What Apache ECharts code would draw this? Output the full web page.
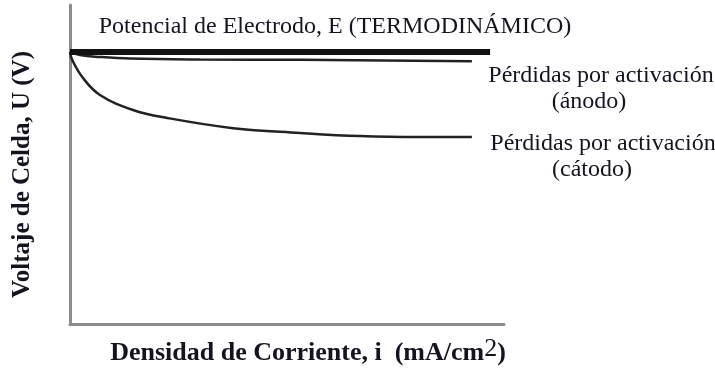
<!DOCTYPE html>
<html>
<head>
    <meta charset="utf-8">
    <title>Pérdidas por activación</title>
    <script src="https://cdn.jsdelivr.net/npm/echarts@6/dist/echarts.min.js"></script>
    <style>
        html, body { margin: 0; padding: 0; background: #fff; }
        #chart { width: 715px; height: 371px; }
    </style>
</head>
<body>
<div id="chart"></div>
<script>
    // datos (escala arbitraria 0-100)
    var potencialX = [0, 96.8];
    var potencialY = [85.3, 85.3];
    var anodoX = [0, 2.3, 6.9, 13.8, 30, 53, 92.6];
    var anodoY = [85.3, 84.3, 83.7, 83.2, 82.9, 82.8, 82.4];
    var catodoX = [0, 0.5, 3.0, 6.9, 14.5, 22.4, 37.6, 53, 66.8, 80.6, 92.6];
    var catodoY = [85.3, 82.8, 77.1, 71.8, 67.1, 64.6, 61.4, 59.9, 58.9, 58.6, 58.6];

    function pares(xs, ys) {
        return xs.map(function (x, i) { return [x, ys[i]]; });
    }

    var serif = '"Liberation Serif", "DejaVu Serif", serif';
    var txt = '#141420';

    var option = {
        animation: false,
        grid: { left: 70, right: 211, top: 5, bottom: 47, outerBoundsMode: 'none' },
        xAxis: {
            type: 'value', min: 0, max: 100,
            axisLine: { lineStyle: { color: '#8c8c8c', width: 3 } },
            axisTick: { show: false }, axisLabel: { show: false }, splitLine: { show: false },
            name: 'Densidad de Corriente, i  (mA/cm{s|2})',
            nameLocation: 'middle', nameGap: 12,
            nameTextStyle: {
                fontFamily: serif, fontWeight: 'bold', fontSize: 26, color: txt,
                padding: [0, 0, 0, 42],
                rich: { s: { fontFamily: serif, fontWeight: 'normal', fontSize: 26, color: txt, verticalAlign: 'top', padding: [0, 0, 8, 0] } }
            }
        },
        yAxis: {
            type: 'value', min: 0, max: 100,
            axisLine: { lineStyle: { color: '#8c8c8c', width: 3 } },
            axisTick: { show: false }, axisLabel: { show: false }, splitLine: { show: false },
            name: 'Voltaje de Celda, U (V)',
            nameLocation: 'middle', nameGap: 35, nameRotate: 90,
            nameTextStyle: {
                fontFamily: serif, fontWeight: 'bold', fontSize: 25, color: txt,
                padding: [0, 20, 0, 0]
            }
        },
        series: [
            {
                name: 'E', type: 'line', symbol: 'none',
                data: pares(potencialX, potencialY),
                lineStyle: { color: '#111', width: 6 }, z: 5
            },
            {
                name: 'anodo', type: 'line', symbol: 'none', smooth: 0.4,
                data: pares(anodoX, anodoY),
                lineStyle: { color: '#222', width: 2.5 }
            },
            {
                name: 'catodo', type: 'line', symbol: 'none', smooth: 0.4,
                data: pares(catodoX, catodoY),
                lineStyle: { color: '#222', width: 2.5 }
            }
        ],
        graphic: [
            { type: 'text', x: 335, y: 27, style: { text: 'Potencial de Electrodo, E (TERMODINÁMICO)', font: '24px ' + serif, fill: txt, align: 'center', verticalAlign: 'middle' } },
            { type: 'text', x: 601, y: 76, style: { text: 'Pérdidas por activación', font: '24px ' + serif, fill: txt, align: 'center', verticalAlign: 'middle' } },
            { type: 'text', x: 589, y: 102, style: { text: '(ánodo)', font: '24px ' + serif, fill: txt, align: 'center', verticalAlign: 'middle' } },
            { type: 'text', x: 603, y: 144, style: { text: 'Pérdidas por activación', font: '24px ' + serif, fill: txt, align: 'center', verticalAlign: 'middle' } },
            { type: 'text', x: 592, y: 170, style: { text: '(cátodo)', font: '24px ' + serif, fill: txt, align: 'center', verticalAlign: 'middle' } }
        ]
    };

    var myChart = echarts.init(document.getElementById('chart'));
    myChart.setOption(option);
</script>
</body>
</html>
